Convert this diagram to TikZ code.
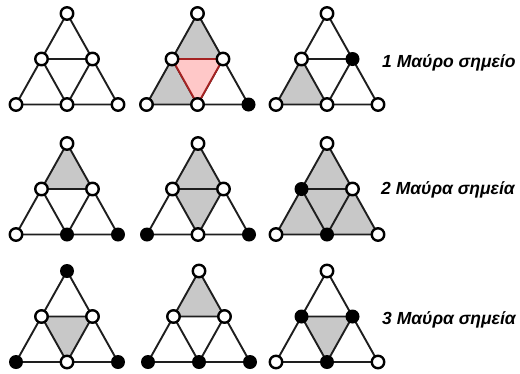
\documentclass[tikz,border=0pt]{standalone}
\usepackage{fontspec}
\setmainfont{Liberation Sans}
\definecolor{shadegray}{RGB}{200,200,200}
\definecolor{pinkfill}{RGB}{255,200,200}
\definecolor{redline}{RGB}{165,35,35}
\definecolor{edgeblack}{RGB}{30,30,30}
% vertices of one subdivided triangle: T top, L/R middle, A/B/C bottom
\newcommand\tripts[3]{%
  \coordinate (#1T) at (#2,#3);
  \coordinate (#1L) at (#2-25.5,#3+45.5);
  \coordinate (#1R) at (#2+25.5,#3+45.5);
  \coordinate (#1A) at (#2-51,#3+91);
  \coordinate (#1B) at (#2,#3+91);
  \coordinate (#1C) at (#2+51,#3+91);
}
\newcommand\triedges[1]{%
  \draw[edge] (#1T) -- (#1A) -- (#1C) -- cycle;
  \draw[edge] (#1L) -- (#1R) -- (#1B) -- cycle;
}
\newcommand\shtop[1]{\fill[shadegray] (#1T) -- (#1L) -- (#1R) -- cycle;}
\newcommand\shleft[1]{\fill[shadegray] (#1L) -- (#1A) -- (#1B) -- cycle;}
\newcommand\shmid[1]{\fill[shadegray] (#1L) -- (#1R) -- (#1B) -- cycle;}
\newcommand\shright[1]{\fill[shadegray] (#1R) -- (#1B) -- (#1C) -- cycle;}
% point markers: #2..#7 are the styles of T, L, R, A, B, C
\newcommand\tridots[7]{%
  \node[#2] (#1Tn) at (#1T) {};
  \node[#3] (#1Ln) at (#1L) {};
  \node[#4] (#1Rn) at (#1R) {};
  \node[#5] (#1An) at (#1A) {};
  \node[#6] (#1Bn) at (#1B) {};
  \node[#7] (#1Cn) at (#1C) {};
}
\tikzset{
  edge/.style={draw=edgeblack, line width=1.9pt, line join=round},
  o/.style={circle, draw=black, line width=2.4pt, fill=white, minimum size=12.5pt, inner sep=0pt},
  b/.style={circle, fill=black, minimum size=14pt, inner sep=0pt},
  caption/.style={anchor=base west, inner sep=0pt, font=\fontsize{17.5}{20}\selectfont\bfseries\itshape}
}
\begin{document}
\begin{tikzpicture}[x=1pt,y=-1pt]
\useasboundingbox (0,0) rectangle (520,373);
% row 1
\tripts{a}{67}{13.5}
\tripts{b}{197.5}{13.5}
\tripts{c}{327}{13.5}
% row 2
\tripts{d}{67}{143.5}
\tripts{e}{198}{143.5}
\tripts{f}{327}{143.5}
% row 3
\tripts{g}{67}{271}
\tripts{h}{199}{271}
\tripts{i}{327}{271}
% shaded regions
\shtop{b}\shleft{b}
\shleft{c}
\shtop{d}
\shtop{e}\shmid{e}
\shtop{f}\shleft{f}\shmid{f}\shright{f}
\shmid{g}
\shtop{h}
\shmid{i}
% edges
\foreach \p in {a,b,c,d,e,f,g,h,i} {\triedges{\p}}
% highlighted middle triangle
\draw[fill=pinkfill, draw=redline, line width=1.9pt, line join=round] (bL) -- (bR) -- (bB) -- cycle;
% points
\tridots{a}{o}{o}{o}{o}{o}{o}
\tridots{b}{o}{o}{o}{o}{o}{b}
\tridots{c}{o}{o}{b}{o}{o}{o}
\tridots{d}{o}{o}{o}{o}{b}{b}
\tridots{e}{o}{o}{o}{b}{o}{b}
\tridots{f}{o}{b}{o}{o}{b}{o}
\tridots{g}{b}{o}{o}{b}{o}{b}
\tridots{h}{o}{o}{o}{b}{b}{b}
\tridots{i}{o}{b}{b}{o}{b}{o}
% captions
\node[caption] (cap1) at (382,67) {1 Μαύρο σημείο};
\node[caption] (cap2) at (381,194) {2 Μαύρα σημεία};
\node[caption] (cap3) at (382,324) {3 Μαύρα σημεία};
\end{tikzpicture}
\end{document}
